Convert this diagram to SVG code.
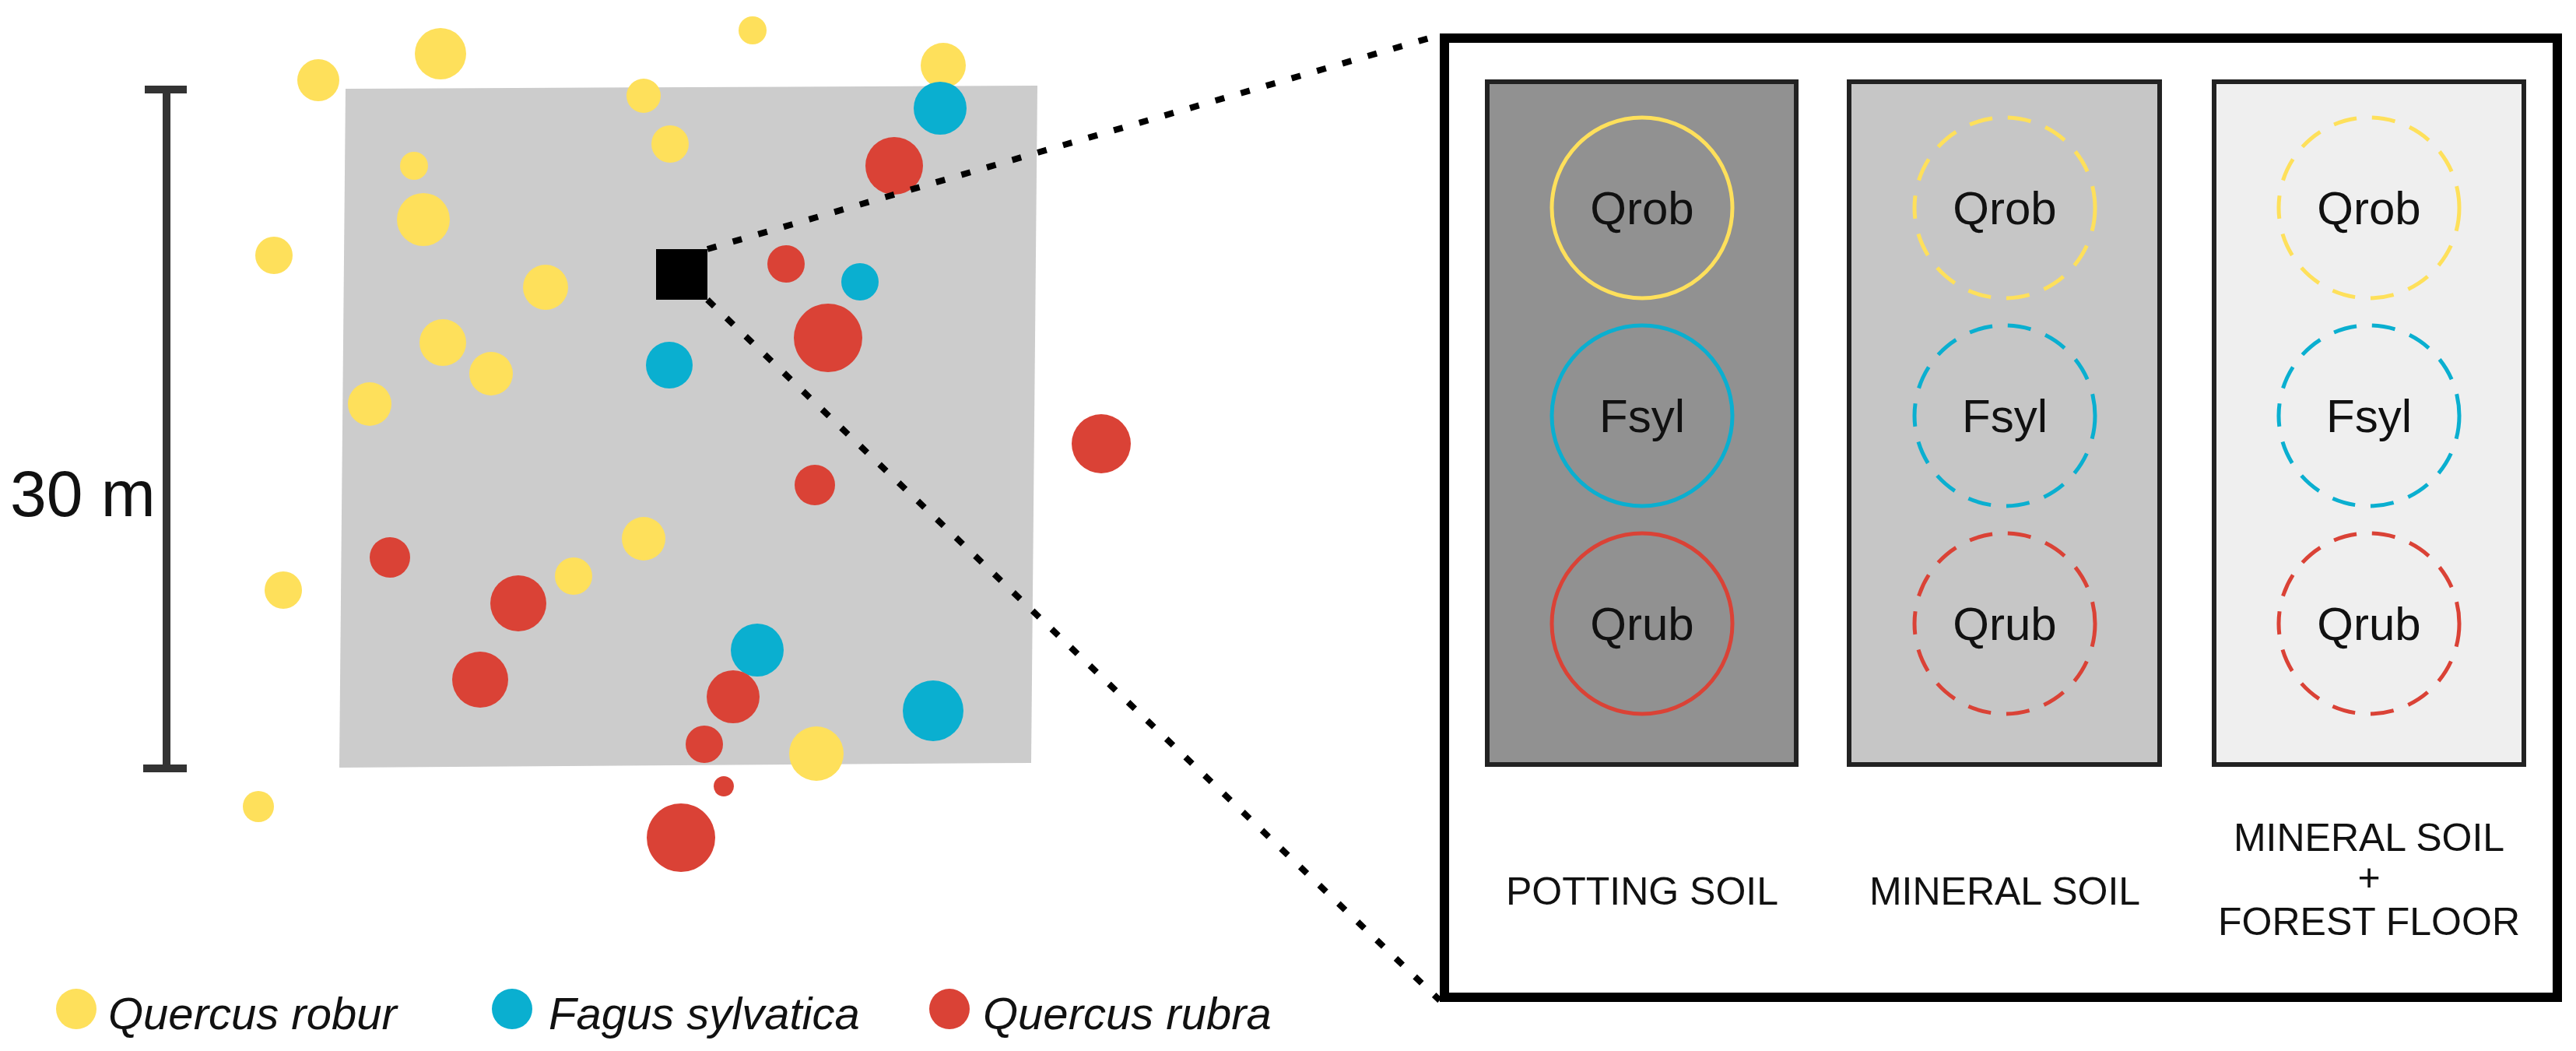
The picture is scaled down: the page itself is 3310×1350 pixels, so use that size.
<svg xmlns="http://www.w3.org/2000/svg" width="3310" height="1350" viewBox="0 0 3310 1350">
<style>
.y{fill:#FEE05B}.b{fill:#0AAFD0}.r{fill:#DA4236}
.t{font-family:"Liberation Sans",Arial,sans-serif;fill:#111}
.pc{fill:none;stroke-width:5}
.d{stroke-dasharray:30 20}
.lab{font-family:"Liberation Sans",Arial,sans-serif;font-size:50px;text-anchor:middle;fill:#111}
.sp{font-family:"Liberation Sans",Arial,sans-serif;font-size:60px;text-anchor:middle;fill:#111}
</style>
<rect width="3310" height="1350" fill="#fff"/>
<g id="plot">
<polygon points="444,114 1333,110 1325,980 436,986" fill="#CCCCCC"/>
</g>
<g id="scalebar" stroke="#333" stroke-width="10" fill="none">
<line x1="214" y1="115" x2="214" y2="987"/>
<line x1="186" y1="115" x2="240" y2="115"/>
<line x1="184" y1="987" x2="240" y2="987"/>
</g>
<text class="t" x="13" y="663" font-size="84">30 m</text>
<g id="trees">
<circle class="y" cx="409" cy="103" r="27"/>
<circle class="y" cx="566" cy="69" r="33"/>
<circle class="y" cx="967" cy="39" r="18"/>
<circle class="y" cx="1212" cy="84" r="29"/>
<circle class="y" cx="827" cy="123" r="22"/>
<circle class="y" cx="861" cy="185" r="24"/>
<circle class="y" cx="532" cy="213" r="18"/>
<circle class="y" cx="544" cy="282" r="34"/>
<circle class="y" cx="352" cy="328" r="24"/>
<circle class="y" cx="701" cy="369" r="29"/>
<circle class="y" cx="569" cy="440" r="30"/>
<circle class="y" cx="631" cy="480" r="28"/>
<circle class="y" cx="475" cy="519" r="28"/>
<circle class="y" cx="827" cy="692" r="28"/>
<circle class="y" cx="737" cy="740" r="24"/>
<circle class="y" cx="364" cy="758" r="24"/>
<circle class="y" cx="1049" cy="968" r="35"/>
<circle class="y" cx="332" cy="1036" r="20"/>
<circle class="b" cx="1208" cy="139" r="34"/>
<circle class="b" cx="1105" cy="362" r="24"/>
<circle class="b" cx="860" cy="469" r="30"/>
<circle class="b" cx="973" cy="835" r="34"/>
<circle class="b" cx="1199" cy="913" r="39"/>
<circle class="r" cx="1149" cy="213" r="37"/>
<circle class="r" cx="1010" cy="339" r="24"/>
<circle class="r" cx="1064" cy="434" r="44"/>
<circle class="r" cx="1415" cy="570" r="38"/>
<circle class="r" cx="1047" cy="623" r="26"/>
<circle class="r" cx="501" cy="716" r="26"/>
<circle class="r" cx="666" cy="775" r="36"/>
<circle class="r" cx="617" cy="873" r="36"/>
<circle class="r" cx="942" cy="895" r="34"/>
<circle class="r" cx="905" cy="956" r="24"/>
<circle class="r" cx="930" cy="1010" r="13"/>
<circle class="r" cx="875" cy="1076" r="44"/>
</g>
<g id="subplot"><rect x="843" y="320" width="66" height="65" fill="#000"/></g>
<g id="connectors" stroke="#000" stroke-width="8" stroke-dasharray="12 22" fill="none">
<line x1="909" y1="320" x2="1850" y2="45"/>
<line x1="909" y1="385" x2="1850" y2="1285"/>
</g>
<g id="detail">
<rect x="1856" y="49" width="1430" height="1232" fill="#fff" stroke="#000" stroke-width="12"/>
</g>
<g id="potting">
<rect x="1911" y="105" width="397" height="877" fill="#919191" stroke="#222" stroke-width="6"/>
<circle class="pc" cx="2110" cy="267" r="116" stroke="#FEE05B"/>
<circle class="pc" cx="2110" cy="534" r="116" stroke="#0AAFD0"/>
<circle class="pc" cx="2110" cy="801" r="116" stroke="#DA4236"/>
<text class="sp" x="2110" y="288">Qrob</text>
<text class="sp" x="2110" y="555">Fsyl</text>
<text class="sp" x="2110" y="822">Qrub</text>
<text class="lab" x="2110" y="1162">POTTING SOIL</text>
</g>
<g id="mineral">
<rect x="2376" y="105" width="399" height="877" fill="#C6C6C6" stroke="#222" stroke-width="6"/>
<circle class="pc d" cx="2576" cy="267" r="116" stroke="#FEE05B"/>
<circle class="pc d" cx="2576" cy="534" r="116" stroke="#0AAFD0"/>
<circle class="pc d" cx="2576" cy="801" r="116" stroke="#DA4236"/>
<text class="sp" x="2576" y="288">Qrob</text>
<text class="sp" x="2576" y="555">Fsyl</text>
<text class="sp" x="2576" y="822">Qrub</text>
<text class="lab" x="2576" y="1162">MINERAL SOIL</text>
</g>
<g id="forest">
<rect x="2845" y="105" width="398" height="877" fill="#EFEFEF" stroke="#222" stroke-width="6"/>
<circle class="pc d" cx="3044" cy="267" r="116" stroke="#FEE05B"/>
<circle class="pc d" cx="3044" cy="534" r="116" stroke="#0AAFD0"/>
<circle class="pc d" cx="3044" cy="801" r="116" stroke="#DA4236"/>
<text class="sp" x="3044" y="288">Qrob</text>
<text class="sp" x="3044" y="555">Fsyl</text>
<text class="sp" x="3044" y="822">Qrub</text>
<text class="lab" x="3044" y="1093">MINERAL SOIL</text>
<text class="lab" x="3044" y="1144">+</text>
<text class="lab" x="3044" y="1201">FOREST FLOOR</text>
</g>
<g id="legend" font-family="'Liberation Sans',Arial,sans-serif" font-size="58" font-style="italic" fill="#111">
<circle class="y" cx="98" cy="1296" r="26"/>
<text x="139" y="1322">Quercus robur</text>
<circle class="b" cx="658" cy="1296" r="26"/>
<text x="705" y="1322">Fagus sylvatica</text>
<circle class="r" cx="1220" cy="1296" r="26"/>
<text x="1263" y="1322">Quercus rubra</text>
</g>
</svg>
